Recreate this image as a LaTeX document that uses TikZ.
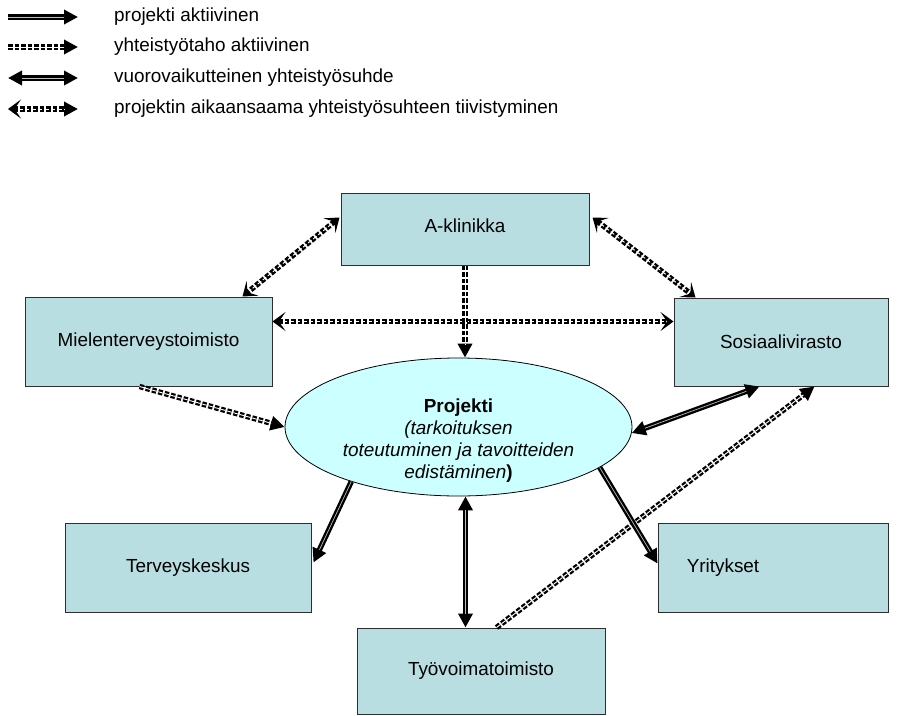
\documentclass[tikz,border=0pt]{standalone}
\usepackage{fontspec}
\setmainfont{Liberation Sans}
\usetikzlibrary{arrows.meta,shapes.geometric,calc}

\definecolor{boxfill}{RGB}{185,222,226}
\definecolor{ovalfill}{RGB}{204,255,255}
\definecolor{boxline}{RGB}{45,45,45}
\definecolor{corecol}{RGB}{190,190,190}

\tikzset{
  basefont/.style={font=\fontsize{18.9}{22}\selectfont},
  orgbox/.style={draw=boxline, line width=1pt, fill=boxfill, inner sep=0pt, basefont},
  oval/.style={ellipse, draw=black, line width=0.8pt, fill=ovalfill, inner sep=0pt,
    minimum width=347pt, minimum height=138pt},
  legendtext/.style={anchor=west, inner sep=0pt, basefont},
  tri/.tip={Triangle[length=14pt,width=14pt]},
  barb/.tip={Stealth[length=13pt,width=19pt,inset=6.5pt]},
  % heavy black stroke with a thin light core line
  solidlink/.style={draw=black, line width=5.4pt,
    postaction={draw=corecol, line width=0.7pt, arrows=-, #1}},
  solidlink/.default={},
  dashlink/.style={draw=black, line width=5.4pt, dash pattern=on 4.5pt off 2pt,
    postaction={draw=white, line width=0.9pt, arrows=-, #1}},
  dashlink/.default={},
}

\begin{document}
\begin{tikzpicture}[x=1pt,y=-1pt]
  \useasboundingbox (0,0) rectangle (910,715);

  % legend
  \foreach \i/\yy in {1/17,2/47,3/78,4/109}{
    \coordinate (la\i) at (8,\yy);
    \coordinate (lb\i) at (78,\yy);
  }
  \node[legendtext] (t1) at (114,17) {projekti aktiivinen};
  \node[legendtext] (t2) at (114,47) {yhteistyötaho aktiivinen};
  \node[legendtext] (t3) at (114,78) {vuorovaikutteinen yhteistyösuhde};
  \node[legendtext] (t4) at (114,109) {projektin aikaansaama yhteistyösuhteen tiivistyminen};
  \draw[solidlink={shorten >=14pt}, -tri] (la1) -- (lb1);
  \draw[dashlink={shorten >=14pt}, -tri] (la2) -- (lb2);
  \draw[solidlink={shorten >=14pt, shorten <=14pt}, tri-tri] (la3) -- (lb3);
  \draw[dashlink={shorten >=14pt, shorten <=10pt}, barb-tri] (la4) -- (lb4);

  % organisations
  \node[orgbox, minimum width=248pt, minimum height=72pt] (A) at (465,229) {\raisebox{7pt}{A-klinikka}};
  \node[orgbox, minimum width=247pt, minimum height=89pt] (M) at (148.5,341.5) {Mielenterveystoimisto};
  \node[orgbox, minimum width=214pt, minimum height=88pt] (S) at (781,342) {Sosiaalivirasto};
  \node[orgbox, minimum width=246pt, minimum height=89pt] (K) at (188,567.5) {Terveyskeskus};
  \node[orgbox, minimum width=230pt, minimum height=89pt] (Y) at (773,567.5) {\hspace*{-100pt}Yritykset};
  \node[orgbox, minimum width=248pt, minimum height=86pt] (T) at (481,671) {Työvoimatoimisto};

  % project
  \node[oval, label={[basefont, align=center, inner sep=0pt, yshift=-14pt]center:%
      \textbf{Projekti}\\\textit{(tarkoituksen}\\\textit{toteutuminen ja tavoitteiden}\\\textit{edistäminen}\textbf{)}}]
      (P) at (458.5,427) {};

  % connection points
  \coordinate (am) at ($(A.north west)+(-1,25)$);
  \coordinate (ma) at ($(M.north east)+(-30,0)$);
  \coordinate (as) at ($(A.north east)+(3,25)$);
  \coordinate (sa) at ($(S.north west)+(22,0)$);
  \coordinate (ms) at ($(M.north east)+(0,25)$);
  \coordinate (sm) at ($(S.north west)+(0,24)$);
  \coordinate (mp) at ($(M.south west)+(115,0)$);
  \coordinate (sp) at ($(S.south west)+(86,0)$);
  \coordinate (ts) at ($(T.north west)+(140,0)$);
  \coordinate (st) at ($(S.south west)+(141,0)$);
  \coordinate (kp) at ($(K.east)+(2,-5)$);
  \coordinate (tp) at ($(T.north west)+(109,0)$);
  \coordinate (yp) at ($(Y.north west)+(0,41)$);

  % partner-driven links
  \draw[dashlink={shorten <=10pt, shorten >=10pt}, barb-barb] (am) -- (ma);
  \draw[dashlink={shorten <=10pt, shorten >=10pt}, barb-barb] (as) -- (sa);
  \draw[dashlink={shorten <=10pt, shorten >=10pt}, barb-barb] (ms) -- (sm);
  \draw[dashlink={shorten >=14pt}, -tri] (A.south) -- (A.south |- P.north);
  \draw[dashlink={shorten >=14pt}, -tri] (mp) -- (P.west);
  \draw[dashlink={shorten >=14pt}, -tri] (ts) -- (st);

  % project-driven links
  \draw[solidlink={shorten <=14pt, shorten >=14pt}, tri-tri] (P.-2) -- (sp);
  \draw[solidlink={shorten >=14pt}, -tri] (P.207) -- (kp);
  \draw[solidlink={shorten <=14pt, shorten >=14pt}, tri-tri] (tp |- P.south) -- (tp);
  \draw[solidlink={shorten >=14pt}, -tri] (P.-16) -- (yp);
\end{tikzpicture}
\end{document}
